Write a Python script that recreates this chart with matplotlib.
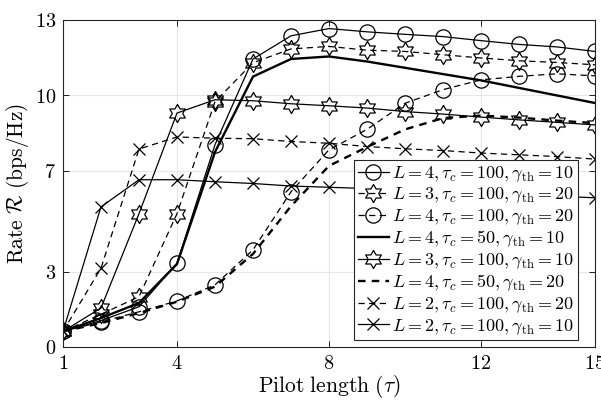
import numpy as np
import matplotlib
matplotlib.use("Agg")
import matplotlib.pyplot as plt

plt.rcParams['mathtext.fontset'] = 'cm'
plt.rcParams['font.family'] = ['DejaVu Serif']

tau = list(range(1, 16))

# L=4, tau_c=100, gamma=10 (circle, solid)
r_l4_100_10 = [0.62, 1.05, 1.6, 3.33, 8.04, 11.45, 12.37, 12.66, 12.53, 12.43, 12.34, 12.18, 12.03, 11.93, 11.75]
# L=3, tau_c=100, gamma=20 (star, dashed)
r_l3_100_20 = [0.62, 1.3, 2.0, 5.3, 9.75, 11.3, 11.85, 11.95, 11.8, 11.75, 11.62, 11.49, 11.38, 11.31, 11.22]
# L=4, tau_c=100, gamma=20 (circle, dashed)
r_l4_100_20 = [0.62, 1.0, 1.4, 1.83, 2.47, 3.86, 6.17, 7.84, 8.65, 9.69, 10.23, 10.62, 10.76, 10.86, 10.78]
# L=4, tau_c=50, gamma=10 (thick solid)
r_l4_50_10 = [0.62, 1.15, 1.75, 3.3, 7.75, 10.75, 11.45, 11.55, 11.35, 11.1, 10.85, 10.6, 10.3, 10.0, 9.7]
# L=3, tau_c=100, gamma=10 (star, solid)
r_l3_100_10 = [0.62, 1.55, 5.3, 9.3, 9.83, 9.79, 9.67, 9.59, 9.5, 9.36, 9.26, 9.14, 9.03, 8.93, 8.83]
# L=4, tau_c=50, gamma=20 (thick dashed)
r_l4_50_20 = [0.62, 0.95, 1.35, 1.8, 2.4, 3.7, 5.6, 7.2, 7.95, 8.65, 9.1, 9.2, 9.12, 9.0, 8.9]
# L=2, tau_c=100, gamma=20 (cross, dashed)
r_l2_100_20 = [0.62, 3.13, 7.87, 8.35, 8.3, 8.28, 8.17, 8.1, 7.97, 7.88, 7.81, 7.71, 7.64, 7.57, 7.47]
# L=2, tau_c=100, gamma=10 (cross, solid)
r_l2_100_10 = [0.62, 5.57, 6.65, 6.65, 6.57, 6.5, 6.4, 6.35, 6.3, 6.25, 6.2, 6.1, 6.05, 6.0, 5.93]

labels = [
    r'$L=4, \tau_c=100, \gamma_{\rm th}=10$',
    r'$L=3, \tau_c=100, \gamma_{\rm th}=20$',
    r'$L=4, \tau_c=100, \gamma_{\rm th}=20$',
    r'$L=4, \tau_c=50, \gamma_{\rm th}=10$',
    r'$L=3, \tau_c=100, \gamma_{\rm th}=10$',
    r'$L=4, \tau_c=50, \gamma_{\rm th}=20$',
    r'$L=2, \tau_c=100, \gamma_{\rm th}=20$',
    r'$L=2, \tau_c=100, \gamma_{\rm th}=10$',
]
xticks = [1, 4, 8, 12, 15]
yticks = [0, 3, 7, 10, 13]

# hexagram marker
ang_out = np.deg2rad(90 + 60 * np.arange(6))
ang_in = np.deg2rad(120 + 60 * np.arange(6))
ri = 1 / np.sqrt(3)
hexa = []
for a, b in zip(ang_out, ang_in):
    hexa.append((np.cos(a), np.sin(a)))
    hexa.append((ri * np.cos(b), ri * np.sin(b)))
hexa.append(hexa[0])

fig = plt.figure(figsize=(6.01, 4.0), dpi=100)
ax = fig.add_axes([0.1048, 0.1325, 0.8852, 0.8175])

thin = 0.9
dash_thin = (0, (5, 3.5))
dash_thick = (0, (3.2, 2.6))
k = dict(color='black', markerfacecolor='none', markeredgecolor='black', markeredgewidth=0.9)

ax.plot(tau, r_l4_100_10, '-', lw=thin, marker='o', ms=11, label=labels[0], **k)
ax.plot(tau, r_l3_100_20, linestyle=dash_thin, lw=thin, marker=hexa, ms=13, label=labels[1], **k)
ax.plot(tau, r_l4_100_20, linestyle=dash_thin, lw=thin, marker='o', ms=11, label=labels[2], **k)
ax.plot(tau, r_l4_50_10, '-', lw=1.7, label=labels[3], color='black')
ax.plot(tau, r_l3_100_10, '-', lw=thin, marker=hexa, ms=13, label=labels[4], **k)
ax.plot(tau, r_l4_50_20, linestyle=dash_thick, lw=1.7, label=labels[5], color='black')
ax.plot(tau, r_l2_100_20, linestyle=dash_thin, lw=thin, marker='x', ms=9, label=labels[6], **k)
ax.plot(tau, r_l2_100_10, '-', lw=thin, marker='x', ms=9, label=labels[7], **k)

ax.set_xlim(1, 15)
ax.set_ylim(0, 13)
ax.set_xticks(xticks)
ax.set_yticks(yticks)
ax.set_xticklabels([f'${t}$' for t in xticks], fontsize=14.5)
ax.set_yticklabels([f'${t}$' for t in yticks], fontsize=14.5)
ax.tick_params(direction='in', top=True, right=True, length=4, width=0.6, pad=5)
ax.grid(True, color='#e6e6e6', lw=0.8)
ax.set_axisbelow(True)
for s in ax.spines.values():
    s.set_linewidth(0.8)
    s.set_color('#262626')

ax.set_xlabel(r'$\mathrm{Pilot\ length}\ (\tau)$', fontsize=15.5, labelpad=0)
ax.set_ylabel(r'$\mathrm{Rate}\ \mathcal{R}\ \mathrm{(bps/Hz)}$', fontsize=15.5, labelpad=3)

leg = ax.legend(loc='lower right', bbox_to_anchor=(0.968, 0.021), borderaxespad=0,
                fontsize=13, handlelength=1.7, handletextpad=0.2, labelspacing=0.1,
                borderpad=0.2, fancybox=False, framealpha=1, edgecolor='#262626')
leg.get_frame().set_linewidth(0.8)

fig.savefig('out.png', dpi=100)
